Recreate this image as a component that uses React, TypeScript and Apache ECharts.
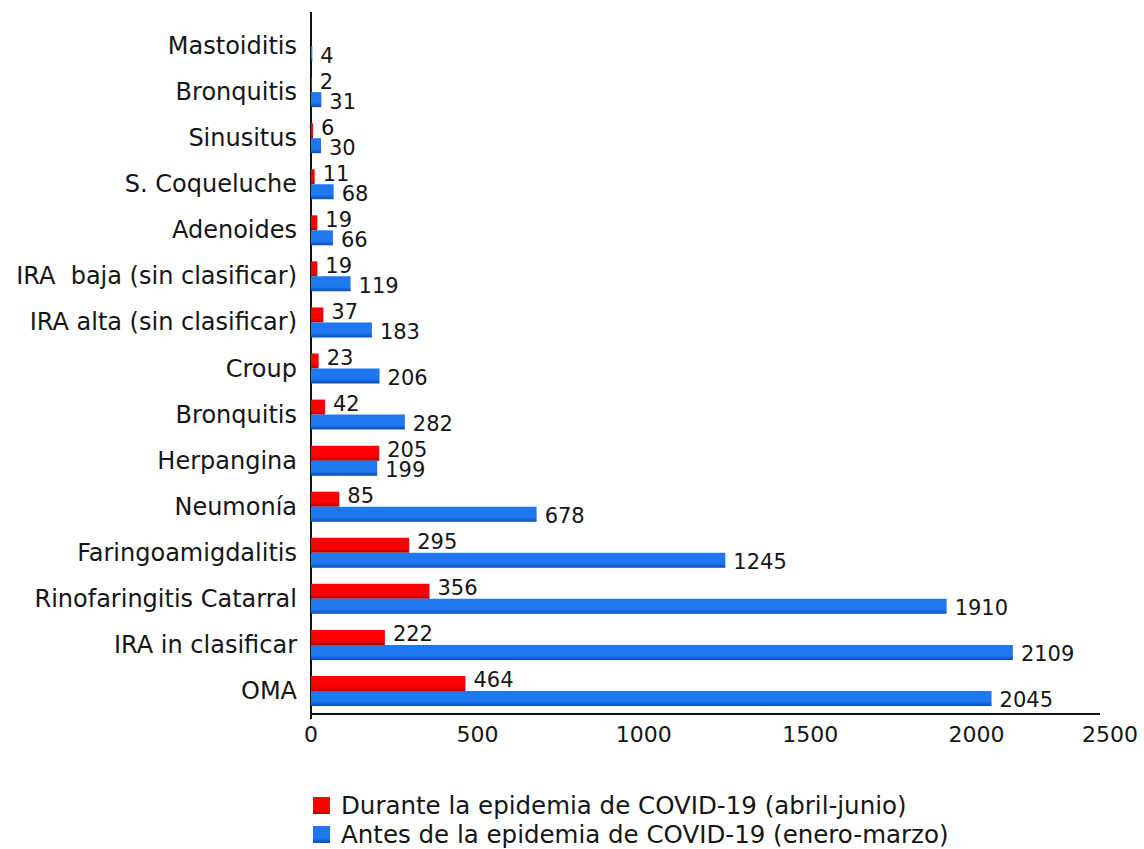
import React, { useEffect, useRef } from "react";
import * as echarts from "echarts";

const categories = [
  "OMA",
  "IRA in clasificar",
  "Rinofaringitis Catarral",
  "Faringoamigdalitis",
  "Neumonía",
  "Herpangina",
  "Bronquitis",
  "Croup",
  "IRA alta (sin clasificar)",
  "IRA  baja (sin clasificar)",
  "Adenoides",
  "S. Coqueluche",
  "Sinusitus",
  "Bronquitis",
  "Mastoiditis",
];
const duranteValues = [464, 222, 356, 295, 85, 205, 42, 23, 37, 19, 19, 11, 6, 2, null];
const antesValues = [2045, 2109, 1910, 1245, 678, 199, 282, 206, 183, 119, 66, 68, 30, 31, 4];
const seriesNames = [
  "Durante la epidemia de COVID-19 (abril-junio)",
  "Antes de la epidemia de COVID-19 (enero-marzo)",
];
const xMin = 0;
const xMax = 2500;
const xStep = 500;

const FONT = "DejaVu Sans, Verdana, sans-serif";
const INK = "#151515";

export default function App() {
  const ref = useRef<HTMLDivElement>(null);
  useEffect(() => {
    if (!ref.current) return;
    const chart = echarts.init(ref.current, null, { renderer: "svg" });
    const grad = (top: string, bottom: string) =>
      new echarts.graphic.LinearGradient(0, 0, 0, 1, [
        { offset: 0, color: top },
        { offset: 0.7, color: top },
        { offset: 1, color: bottom },
      ]);
    const legendBase = {
      left: 308,
      padding: 5,
      itemWidth: 17,
      itemHeight: 17,
      icon: "rect",
      textStyle: {
        fontSize: 24.5,
        lineHeight: 24,
        color: INK,
        fontFamily: FONT,
        padding: [0, 0, 0, 6],
      },
    };
    const gridLeft = 311;
    const gridBottomY = 714;
    chart.setOption({
      animation: false,
      textStyle: { fontFamily: FONT },
      grid: { left: gridLeft, right: 1, top: 23, bottom: 849 - gridBottomY, containLabel: false },
      xAxis: {
        type: "value",
        min: xMin,
        max: xMax,
        interval: xStep,
        splitLine: { show: false },
        axisLine: { show: false },
        axisTick: { show: false },
        axisLabel: {
          fontSize: 22,
          color: INK,
          margin: 9,
          fontFamily: FONT,
          alignMaxLabel: "right",
          formatter: (v: number) => (v === xMax ? `{last|${v}}` : String(v)),
          rich: {
            last: { fontSize: 22, color: INK, fontFamily: FONT, padding: [0, 5, 0, 0] },
          },
        },
      },
      yAxis: {
        type: "category",
        data: categories,
        axisLine: { show: true, lineStyle: { color: "#111", width: 2 } },
        axisTick: { show: false },
        axisLabel: { fontSize: 24, color: INK, margin: 14, fontFamily: FONT },
      },
      legend: [
        { ...legendBase, top: 788, data: [seriesNames[0]] },
        { ...legendBase, top: 817, data: [seriesNames[1]] },
      ],
      graphic: [
        {
          type: "line",
          shape: { x1: gridLeft, y1: 12, x2: gridLeft, y2: 24 },
          style: { stroke: "#111", lineWidth: 2 },
        },
        {
          type: "line",
          shape: { x1: gridLeft, y1: gridBottomY, x2: 1100, y2: gridBottomY },
          style: { stroke: "#111", lineWidth: 2 },
        },
        {
          type: "line",
          shape: { x1: gridLeft, y1: gridBottomY, x2: gridLeft, y2: gridBottomY + 5 },
          style: { stroke: "#111", lineWidth: 2 },
        },
      ],
      series: [
        {
          name: seriesNames[0],
          type: "bar",
          data: duranteValues,
          barWidth: 15,
          barGap: "0%",
          itemStyle: { color: grad("#ff0000", "#b00000") },
          label: {
            show: true,
            position: "right",
            distance: 8,
            offset: [0, -3],
            fontSize: 21,
            lineHeight: 15,
            color: INK,
            fontFamily: FONT,
          },
        },
        {
          name: seriesNames[1],
          type: "bar",
          data: antesValues,
          barWidth: 15,
          barGap: "0%",
          itemStyle: { color: grad("#1f78f0", "#0a4cb8") },
          label: {
            show: true,
            position: "right",
            distance: 8,
            offset: [0, 2],
            fontSize: 21,
            lineHeight: 15,
            color: INK,
            fontFamily: FONT,
          },
        },
      ],
    });
    return () => chart.dispose();
  }, []);
  return (
    <div
      ref={ref}
      style={{ position: "fixed", left: 0, top: 0, width: 1144, height: 849, background: "#fff" }}
    />
  );
}
